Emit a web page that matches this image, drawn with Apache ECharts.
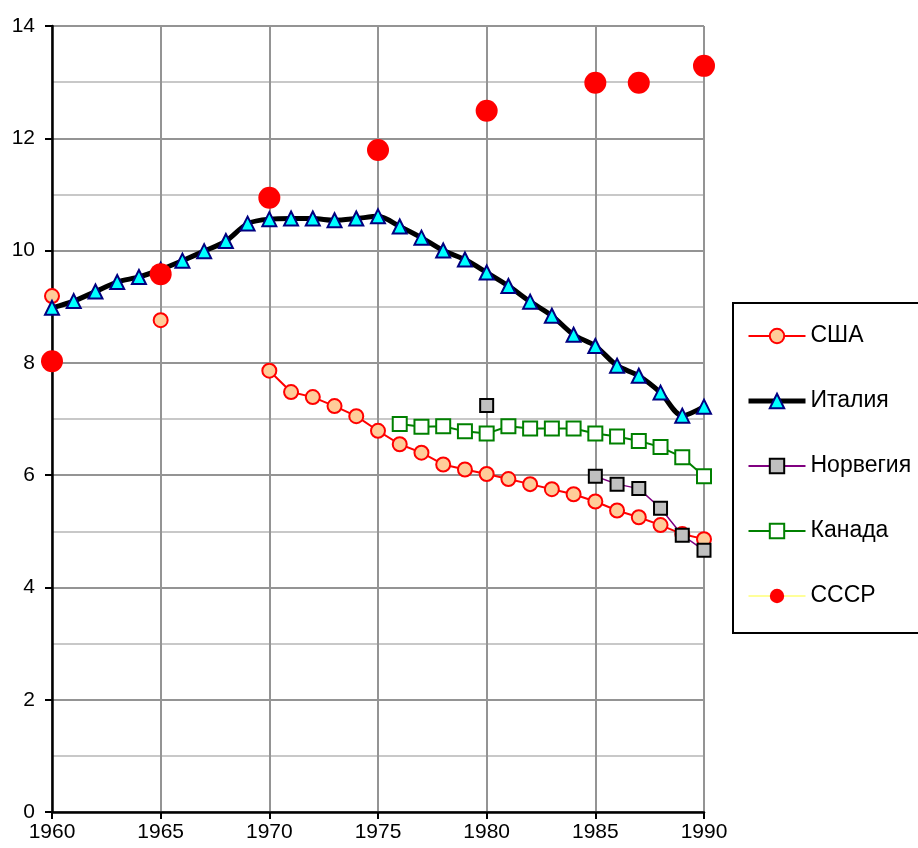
<!DOCTYPE html>
<html>
<head>
<meta charset="utf-8">
<script src="https://cdn.jsdelivr.net/npm/echarts@6/dist/echarts.min.js"></script>
<style>
html,body{margin:0;padding:0;background:#fff;}
#chart{width:918px;height:848px;}
</style>
</head>
<body>
<div id="chart"></div>
<script>
const years = [1960,1961,1962,1963,1964,1965,1966,1967,1968,1969,1970,1971,1972,1973,1974,1975,1976,1977,1978,1979,1980,1981,1982,1983,1984,1985,1986,1987,1988,1989,1990];
const usa = [9.19,null,null,null,null,8.76,null,null,null,null,7.86,7.48,7.39,7.23,7.05,6.79,6.55,6.40,6.19,6.10,6.02,5.93,5.84,5.75,5.66,5.53,5.37,5.25,5.11,4.95,4.86];
const italy = [8.98,9.10,9.27,9.44,9.53,9.66,9.82,9.99,10.17,10.48,10.56,10.57,10.57,10.54,10.57,10.61,10.43,10.23,10.0,9.84,9.61,9.37,9.09,8.84,8.5,8.3,7.95,7.77,7.47,7.06,7.22];
const norway = [null,null,null,null,null,null,null,null,null,null,null,null,null,null,null,null,null,null,null,null,7.24,null,null,null,null,5.98,5.84,5.76,5.41,4.93,4.66];
const canada = [null,null,null,null,null,null,null,null,null,null,null,null,null,null,null,null,6.91,6.86,6.87,6.78,6.74,6.87,6.83,6.83,6.83,6.74,6.69,6.61,6.50,6.32,5.98];
const ussr = [8.03,null,null,null,null,9.58,null,null,null,null,10.94,null,null,null,null,11.79,null,null,null,null,12.49,null,null,null,null,12.99,null,12.99,null,null,13.29];
const names = ['США','Италия','Норвегия','Канада','СССР'];
const yTicks = [0,2,4,6,8,10,12,14];

const pairs = arr => years.map((y,i)=>[y, arr[i]==null ? '-' : arr[i]]);
const FONT = "'Liberation Sans', Arial, sans-serif";

const chart = echarts.init(document.getElementById('chart'), null, {renderer:'canvas'});
chart.setOption({
  animation:false,
  backgroundColor:'#fff',
  grid:{left:52,right:214,top:26,bottom:36,containLabel:false},
  xAxis:{
    type:'value',min:1960,max:1990,interval:5,
    axisLine:{show:true,onZero:false,lineStyle:{color:'#000',width:2.5}},
    axisTick:{show:true,length:7,lineStyle:{color:'#000',width:2}},
    axisLabel:{fontSize:21,color:'#000',fontFamily:FONT,margin:10,formatter:v=>String(v)},
    splitLine:{show:true,lineStyle:{color:'#949494',width:2}}
  },
  yAxis:{
    type:'value',min:yTicks[0],max:yTicks[yTicks.length-1],interval:2,
    axisLine:{show:true,lineStyle:{color:'#000',width:2.5}},
    axisTick:{show:true,length:7,lineStyle:{color:'#000',width:2}},
    axisLabel:{fontSize:21,color:'#000',fontFamily:FONT,margin:17},
    splitLine:{show:true,lineStyle:{color:'#949494',width:2}},
    minorTick:{show:false,splitNumber:2},
    minorSplitLine:{show:true,lineStyle:{color:'#c8c8c8',width:2}}
  },
  legend:{
    orient:'vertical',left:733,top:303,
    itemWidth:57,itemHeight:18,itemGap:41,
    padding:[21,80,25,13],
    borderColor:'#000',borderWidth:2,
    textStyle:{fontSize:23,color:'#000',fontFamily:FONT,lineHeight:24},
    data:[
      {name:names[0],lineStyle:{width:2}},
      {name:names[1],lineStyle:{width:5}},
      {name:names[2],lineStyle:{width:2}},
      {name:names[3],lineStyle:{width:2}},
      {name:names[4],lineStyle:{width:2}}
    ]
  },
  series:[
    {name:names[0],type:'line',data:pairs(usa),connectNulls:false,
     symbol:'circle',symbolSize:14,
     lineStyle:{color:'#ff0000',width:2},
     itemStyle:{color:'#ffcc99',borderColor:'#ff0000',borderWidth:2}},
    {name:names[1],type:'line',data:pairs(italy),smooth:0.3,
     symbol:'triangle',symbolSize:14,
     lineStyle:{color:'#000',width:5},
     itemStyle:{color:'#00ffff',borderColor:'#000080',borderWidth:2}},
    {name:names[2],type:'line',data:pairs(norway),connectNulls:false,
     symbol:'rect',symbolSize:13,
     lineStyle:{color:'#800080',width:1.5},
     itemStyle:{color:'#c0c0c0',borderColor:'#000',borderWidth:2}},
    {name:names[3],type:'line',data:pairs(canada),
     symbol:'rect',symbolSize:14,
     lineStyle:{color:'#008000',width:2},
     itemStyle:{color:'#ffffff',borderColor:'#008000',borderWidth:2}},
    {name:names[4],type:'line',data:pairs(ussr),connectNulls:false,
     symbol:'circle',symbolSize:22,
     lineStyle:{color:'#ffff99',width:1.5},
     itemStyle:{color:'#ff0000',borderColor:'#ff0000',borderWidth:0}}
  ]
});
</script>
</body>
</html>
